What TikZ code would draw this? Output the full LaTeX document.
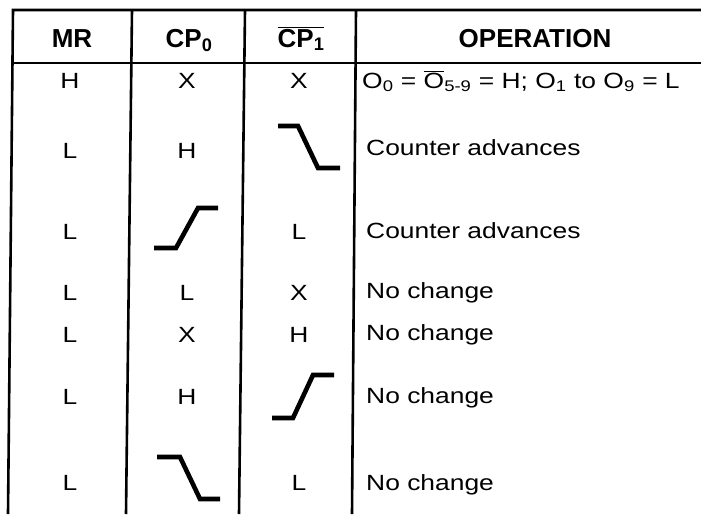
\documentclass[tikz,border=0pt]{standalone}
\usepackage{fontspec}
\setmainfont{Liberation Sans}
\usepackage{tikz}

\newcommand{\ovl}[1]{$\overline{\hbox{#1}}$}
\newcommand{\lo}[1]{\textsubscript{#1}}

\begin{document}
\begin{tikzpicture}[x=1pt, y=-1pt,
    head/.style={font=\fontsize{26}{30}\selectfont\bfseries, inner sep=0pt, anchor=base},
    cell/.style={font=\fontsize{22}{26}\selectfont, xscale=1.2, inner sep=0pt, anchor=base},
    oper/.style={cell, anchor=base west},
    rule/.style={line width=2.6pt},
    edge/.style={line width=4.6pt}]
    \useasboundingbox (0,0) rectangle (701,514);

    % Table rules
    \draw[rule] (701,10) -- (13,10) -- (8,514);
    \draw[rule] (13,63) -- (701,63);
    \draw[rule] (132,10) -- (126,514);
    \draw[rule] (245,10) -- (239,514);
    \draw[rule] (356,10) -- (352,514);

    % Header
    \node[head] (hmr) at (72,47) {MR};
    \node[head] (hcp0) at (189,47) {CP\lo{0}};
    \node[head] (hcp1) at (301,47) {\ovl{CP\lo{1}}};
    \node[head] (hop) at (535,47) {OPERATION};

    % Row 1
    \node[cell] (mr1) at (70,88) {H};
    \node[cell] (cpa1) at (187,88) {X};
    \node[cell] (cpb1) at (299,88) {X};
    \node[oper] (op1) at (362,88) {O\lo{0} = \ovl{O}\lo{5-9} = H; O\lo{1} to O\lo{9} = L};

    % Row 2
    \node[cell] (mr2) at (70,158) {L};
    \node[cell] (cpa2) at (187,158) {H};
    \coordinate (fall2) at (278,126);
    \draw[edge] (fall2) -- ++(20,0) -- ++(20,42) -- ++(22,0);
    \node[oper] (op2) at (366,155) {Counter advances};

    % Row 3
    \node[cell] (mr3) at (70,239) {L};
    \coordinate (rise3) at (154,248);
    \draw[edge] (rise3) -- ++(22,0) -- ++(22,-40) -- ++(20,0);
    \node[cell] (cpb3) at (299,239) {L};
    \node[oper] (op3) at (366,238) {Counter advances};

    % Row 4
    \node[cell] (mr4) at (70,300) {L};
    \node[cell] (cpa4) at (187,300) {L};
    \node[cell] (cpb4) at (299,300) {X};
    \node[oper] (op4) at (366,298) {No change};

    % Row 5
    \node[cell] (mr5) at (70,342) {L};
    \node[cell] (cpa5) at (187,342) {X};
    \node[cell] (cpb5) at (299,342) {H};
    \node[oper] (op5) at (366,340) {No change};

    % Row 6
    \node[cell] (mr6) at (70,404) {L};
    \node[cell] (cpa6) at (187,404) {H};
    \coordinate (rise6) at (272,418);
    \draw[edge] (rise6) -- ++(21,0) -- ++(20,-43) -- ++(21,0);
    \node[oper] (op6) at (366,403) {No change};

    % Row 7
    \node[cell] (mr7) at (70,490) {L};
    \coordinate (fall7) at (157,457);
    \draw[edge] (fall7) -- ++(23,0) -- ++(20,42) -- ++(20,0);
    \node[cell] (cpb7) at (299,490) {L};
    \node[oper] (op7) at (366,490) {No change};
\end{tikzpicture}
\end{document}
